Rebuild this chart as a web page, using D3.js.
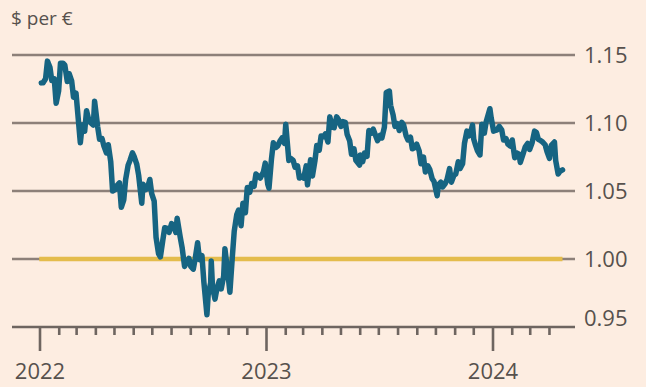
<!DOCTYPE html>
<html>
<head>
<meta charset="utf-8">
<script src="https://cdn.jsdelivr.net/npm/d3@7"></script>
<style>
  html, body { margin: 0; padding: 0; background: #fdede1; }
  svg { display: block; }
  text { font-family: "Open Sans", "Noto Sans", sans-serif; fill: #57514d; font-weight: 500; }
</style>
</head>
<body>
<svg id="chart" width="646" height="387"></svg>
<script>
// Euro in dollars, twice-weekly closes, Jan 2022 – Apr 2024
const dates = [
  "2022-01-03","2022-01-06","2022-01-10","2022-01-13","2022-01-17","2022-01-20","2022-01-24","2022-01-27","2022-01-31",
  "2022-02-03","2022-02-07","2022-02-10","2022-02-14","2022-02-17","2022-02-21","2022-02-24","2022-02-28",
  "2022-03-03","2022-03-07","2022-03-10","2022-03-14","2022-03-17","2022-03-21","2022-03-24","2022-03-28","2022-03-30",
  "2022-04-04","2022-04-07","2022-04-11","2022-04-14","2022-04-18","2022-04-21","2022-04-25","2022-04-28",
  "2022-05-02","2022-05-05","2022-05-09","2022-05-12","2022-05-16","2022-05-19","2022-05-23","2022-05-26","2022-05-30",
  "2022-06-02","2022-06-06","2022-06-09","2022-06-14","2022-06-16","2022-06-20","2022-06-23","2022-06-27","2022-06-30",
  "2022-07-04","2022-07-07","2022-07-11","2022-07-14","2022-07-18","2022-07-21","2022-07-25","2022-07-28",
  "2022-08-01","2022-08-04","2022-08-08","2022-08-10","2022-08-15","2022-08-18","2022-08-22","2022-08-25","2022-08-29",
  "2022-09-01","2022-09-05","2022-09-08","2022-09-12","2022-09-15","2022-09-19","2022-09-22","2022-09-27","2022-09-29",
  "2022-10-03","2022-10-04","2022-10-06","2022-10-10","2022-10-13","2022-10-17","2022-10-20","2022-10-24","2022-10-26","2022-10-31",
  "2022-11-03","2022-11-07","2022-11-10","2022-11-14","2022-11-17","2022-11-21","2022-11-24","2022-11-28",
  "2022-12-01","2022-12-05","2022-12-08","2022-12-12","2022-12-15","2022-12-19","2022-12-22","2022-12-27","2022-12-30",
  "2023-01-03","2023-01-05","2023-01-09","2023-01-12","2023-01-16","2023-01-19","2023-01-23","2023-01-26","2023-01-30",
  "2023-02-01","2023-02-06","2023-02-09","2023-02-13","2023-02-16","2023-02-20","2023-02-23","2023-02-27",
  "2023-03-02","2023-03-06","2023-03-08","2023-03-13","2023-03-16","2023-03-20","2023-03-23","2023-03-27","2023-03-30",
  "2023-04-03","2023-04-06","2023-04-10","2023-04-13","2023-04-17","2023-04-20","2023-04-24","2023-04-27",
  "2023-05-01","2023-05-04","2023-05-08","2023-05-11","2023-05-15","2023-05-18","2023-05-22","2023-05-25","2023-05-31",
  "2023-06-01","2023-06-05","2023-06-08","2023-06-12","2023-06-15","2023-06-19","2023-06-22","2023-06-26","2023-06-29",
  "2023-07-03","2023-07-06","2023-07-10","2023-07-13","2023-07-18","2023-07-20","2023-07-24","2023-07-27","2023-07-31",
  "2023-08-03","2023-08-07","2023-08-10","2023-08-14","2023-08-17","2023-08-21","2023-08-24","2023-08-28","2023-08-31",
  "2023-09-04","2023-09-07","2023-09-11","2023-09-14","2023-09-18","2023-09-21","2023-09-25","2023-09-28",
  "2023-10-03","2023-10-05","2023-10-09","2023-10-12","2023-10-16","2023-10-19","2023-10-23","2023-10-26","2023-10-30",
  "2023-11-02","2023-11-06","2023-11-09","2023-11-13","2023-11-16","2023-11-20","2023-11-23","2023-11-27","2023-11-29",
  "2023-12-01","2023-12-04","2023-12-07","2023-12-11","2023-12-14","2023-12-18","2023-12-21","2023-12-27","2023-12-29",
  "2024-01-02","2024-01-04","2024-01-08","2024-01-11","2024-01-15","2024-01-18","2024-01-22","2024-01-25","2024-01-29",
  "2024-02-01","2024-02-05","2024-02-08","2024-02-12","2024-02-14","2024-02-19","2024-02-22","2024-02-26","2024-02-29",
  "2024-03-04","2024-03-08","2024-03-11","2024-03-14","2024-03-18","2024-03-21","2024-03-25","2024-03-28",
  "2024-04-01","2024-04-04","2024-04-09","2024-04-11","2024-04-15","2024-04-18","2024-04-22"
];

const eurusd = [
  1.1295,1.1296,1.1325,1.1455,1.1410,1.1312,1.1325,1.1145,1.1235,
  1.1440,1.1440,1.1425,1.1305,1.1362,1.1310,1.1190,1.1220,
  1.1065,1.0855,1.0985,1.0940,1.1090,1.1015,1.1000,1.0985,1.1160,
  1.0970,1.0880,1.0885,1.0830,1.0780,1.0840,1.0715,1.0500,
  1.0510,1.0540,1.0560,1.0380,1.0435,1.0585,1.0690,1.0725,1.0780,
  1.0750,1.0695,1.0615,1.0410,1.0550,1.0510,1.0520,1.0585,1.0480,
  1.0425,1.0160,1.0040,1.0015,1.0140,1.0230,1.0225,1.0195,
  1.0260,1.0245,1.0195,1.0300,1.0160,1.0085,0.9945,0.9975,1.0005,
  0.9945,0.9925,1.0000,1.0120,0.9995,1.0025,0.9835,0.9590,0.9735,
  0.9825,0.9985,0.9795,0.9705,0.9780,0.9840,0.9780,0.9875,1.0075,0.9885,
  0.9755,1.0020,1.0205,1.0325,1.0360,1.0245,1.0410,1.0340,
  1.0525,1.0490,1.0555,1.0535,1.0625,1.0610,1.0595,1.0640,1.0705,
  1.0550,1.0520,1.0735,1.0855,1.0820,1.0830,1.0870,1.0890,1.0850,
  1.0990,1.0725,1.0740,1.0725,1.0675,1.0685,1.0595,1.0610,
  1.0595,1.0685,1.0545,1.0730,1.0610,1.0720,1.0835,1.0800,1.0905,
  1.0900,1.0920,1.0860,1.1045,1.0970,1.0965,1.1045,1.1025,
  1.0975,1.1010,1.1005,1.0915,1.0870,1.0770,1.0810,1.0725,1.0690,
  1.0765,1.0715,1.0780,1.0755,1.0945,1.0925,1.0955,1.0905,1.0870,
  1.0910,1.0890,1.0970,1.1225,1.1235,1.1130,1.1060,1.0975,1.0995,
  1.0945,1.1005,1.0985,1.0905,1.0875,1.0895,1.0810,1.0820,1.0845,
  1.0795,1.0700,1.0750,1.0640,1.0685,1.0660,1.0590,1.0570,
  1.0465,1.0545,1.0565,1.0530,1.0555,1.0585,1.0665,1.0565,1.0615,
  1.0625,1.0715,1.0665,1.0700,1.0850,1.0940,1.0905,1.0950,1.0985,
  1.0880,1.0835,1.0795,1.0765,1.0990,1.0925,1.1010,1.1105,1.1040,
  1.0940,1.0945,1.0950,1.0975,1.0950,1.0875,1.0885,1.0845,1.0830,
  1.0875,1.0745,1.0780,1.0770,1.0710,1.0780,1.0825,1.0850,1.0805,
  1.0855,1.0940,1.0930,1.0880,1.0870,1.0860,1.0840,1.0790,
  1.0740,1.0835,1.0860,1.0725,1.0625,1.0645,1.0655
];

const yTicks = [0.95, 1.00, 1.05, 1.10, 1.15];
const yTickLabels = ["0.95", "1.00", "1.05", "1.10", "1.15"];
const yearTicks = ["2022-01-01", "2023-01-01", "2024-01-01"];
const yearLabels = ["2022", "2023", "2024"];
const parity = 1.00;

const parse = d3.utcParse("%Y-%m-%d");
const series = dates.map((d, i) => ({ date: parse(d), value: eurusd[i] }));

const svg = d3.select("#chart");
const left = 12, right = 575;

const x = d3.scaleUtc()
  .domain([parse(yearTicks[0]), parse(yearTicks[2])])
  .range([40, 493]);

const y = d3.scaleLinear()
  .domain([0.95, 1.15])
  .range([327, 55]);

// title
svg.append("text")
  .attr("x", 11).attr("y", 25)
  .style("font-size", "19px")
  .text("$ per €");

// horizontal gridlines (bottom one is the axis)
svg.append("g").selectAll("line")
  .data(yTicks.filter(v => v > 0.95))
  .join("line")
  .attr("x1", left).attr("x2", right)
  .attr("y1", d => y(d)).attr("y2", d => y(d))
  .attr("stroke", "#8d8079")
  .attr("stroke-width", 2.6);

// parity line across the data span
const extent = d3.extent(series, d => d.date);
svg.append("line")
  .attr("x1", x(extent[0]) - 2).attr("x2", x(extent[1]))
  .attr("y1", y(parity)).attr("y2", y(parity))
  .attr("stroke", "#e4bc4c")
  .attr("stroke-width", 4.5);

// y labels on the right
svg.append("g").selectAll("text")
  .data(yTicks)
  .join("text")
  .attr("x", 584)
  .attr("y", d => y(d) + (d === 0.95 ? -9 : 0))
  .attr("dy", "0.35em")
  .style("font-size", "22px")
  .text((d, i) => yTickLabels[i]);

// bottom axis line
svg.append("line")
  .attr("x1", left).attr("x2", right)
  .attr("y1", y(0.95)).attr("y2", y(0.95))
  .attr("stroke", "#6e6560")
  .attr("stroke-width", 2.6);

// monthly minor ticks, long ticks at each January
const months = d3.utcMonth.range(parse("2022-01-01"), parse("2024-04-02"));
svg.append("g").selectAll("line")
  .data(months)
  .join("line")
  .attr("x1", d => x(d)).attr("x2", d => x(d))
  .attr("y1", y(0.95))
  .attr("y2", d => d.getUTCMonth() === 0 ? y(0.95) + 24 : y(0.95) + 8)
  .attr("stroke", "#6e6560")
  .attr("stroke-width", 2.6);

// year labels
svg.append("g").selectAll("text")
  .data(yearTicks)
  .join("text")
  .attr("x", d => x(parse(d)))
  .attr("y", 379)
  .attr("text-anchor", "middle")
  .style("font-size", "22px")
  .text((d, i) => yearLabels[i]);

// exchange-rate line
const line = d3.line()
  .x(d => x(d.date))
  .y(d => y(d.value));

svg.append("path")
  .datum(series)
  .attr("d", line)
  .attr("fill", "none")
  .attr("stroke", "#166482")
  .attr("stroke-width", 5.5)
  .attr("stroke-linejoin", "round")
  .attr("stroke-linecap", "round");
</script>
</body>
</html>
